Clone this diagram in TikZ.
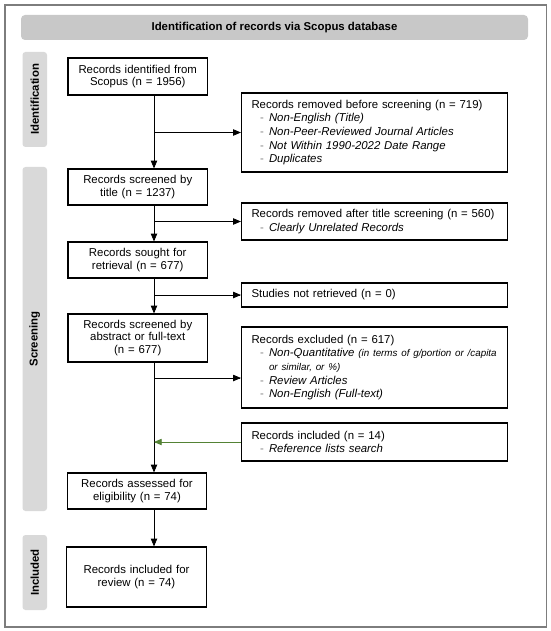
\documentclass[tikz,border=0pt]{standalone}
\usepackage{fontspec}
\setmainfont{Liberation Sans}
\usepackage{xcolor}
\usetikzlibrary{arrows}

\definecolor{barGray}{RGB}{200,200,200}
\definecolor{sideGray}{RGB}{217,217,217}
\definecolor{frameGray}{RGB}{125,125,125}
\definecolor{addGreen}{RGB}{84,130,53}
\newcommand{\dashitem}[1]{\hspace*{8.5pt}\textcolor{gray}{-}\hspace*{5.2pt}\textit{#1}}
\newcommand{\smallnote}{\fontsize{9.8}{12}\selectfont\itshape}

\tikzset{
    stagebox/.style={draw,line width=1.2pt,align=center,text width=131.5pt,inner xsep=4pt,inner ysep=2pt,font=\fontsize{11.4}{12.3}\selectfont},
    notebox/.style={draw,line width=1.2pt,align=left,text width=246pt,inner xsep=10pt,inner ysep=2pt,font=\fontsize{11.4}{13.6}\selectfont},
    phasebar/.style={fill=sideGray,rounded corners=3pt,rotate=90,minimum height=24.5pt,inner sep=0pt,font=\fontsize{11.4}{12}\selectfont\bfseries},
    flow/.style={->,>=triangle 45,line width=0.75pt}
}

\begin{document}
\begin{tikzpicture}[x=1pt,y=-1pt]
            \useasboundingbox (0,0) rectangle (550,631);
            \fill[white] (0,0) rectangle (550,631);
            \draw[frameGray,line width=1.2pt] (5,5) rectangle (546.5,627);

            \node[fill=barGray,rounded corners=4pt,minimum width=507pt,minimum height=25pt,font=\fontsize{11.4}{12}\selectfont\bfseries] (head) at (274.5,27.5) {Identification of records via Scopus database};
            \node[phasebar,minimum width=95pt] (idBar) at (34.75,99.5) {Identification};
            \node[phasebar,minimum width=344pt] (scrBar) at (34.75,339) {Screening};
            \node[phasebar,minimum width=75pt] (incBar) at (34.75,572.5) {Included};

            \node[stagebox,minimum height=37pt] (ident) at (137.75,76.5) {Records identified from\\Scopus (n = 1956)};
            \node[stagebox,minimum height=36pt] (title) at (137.75,187) {Records screened by\\title (n = 1237)};
            \node[stagebox,minimum height=36pt] (sought) at (137.75,260) {Records sought for\\retrieval (n = 677)};
            \node[stagebox,minimum height=48pt] (full) at (137.75,338) {Records screened by\\abstract or full-text\\(n = 677)};
            \node[stagebox,minimum height=36pt] (elig) at (137,491) {Records assessed for\\eligibility (n = 74)};
            \node[stagebox,minimum height=60pt] (incl) at (136.5,577) {Records included for\\review (n = 74)};

            \node[notebox,minimum height=79pt] (removed) at (374.5,132.5) {Records removed before screening (n = 719)\\
                \dashitem{Non-English (Title)}\\
                \dashitem{Non-Peer-Reviewed Journal Articles}\\
                \dashitem{Not Within 1990-2022 Date Range}\\
                \dashitem{Duplicates}};
            \node[notebox,minimum height=37pt] (unrel) at (374.5,221.5) {Records removed after title screening (n = 560)\\
                \dashitem{Clearly Unrelated Records}};
            \node[notebox,minimum height=24pt] (notRet) at (374.5,295) {Studies not retrieved (n = 0)};
            \node[notebox,minimum height=81pt] (excl) at (374.5,367.5) {Records excluded (n = 617)\\
                \mbox{\dashitem{Non-Quantitative {\smallnote(in terms of g/portion or /capita}}}\\
                \hspace*{17.5pt}{\smallnote or similar, or \%)}\\
                \dashitem{Review Articles}\\
                \dashitem{Non-English (Full-text)}};
            \node[notebox,minimum height=38pt] (extra) at (374.5,442) {Records included (n = 14)\\
                \dashitem{Reference lists search}};

            \coordinate (trunk) at (154,0);
            \coordinate (exclIn) at ([yshift=-10.5pt]excl.west);

            \draw[flow] (ident.south -| trunk) -- (title.north -| trunk);
            \draw[flow] (title.south -| trunk) -- (sought.north -| trunk);
            \draw[flow] (sought.south -| trunk) -- (full.north -| trunk);
            \draw[flow] (full.south -| trunk) -- (elig.north -| trunk);
            \draw[flow] (elig.south -| trunk) -- (incl.north -| trunk);
            \draw[flow] (trunk |- removed.west) -- (removed.west);
            \draw[flow] (trunk |- unrel.west) -- (unrel.west);
            \draw[flow] (trunk |- notRet.west) -- (notRet.west);
            \draw[flow] (trunk |- exclIn) -- (exclIn);
            \draw[flow,addGreen] (extra.west) -- (trunk |- extra.west);
\end{tikzpicture}
\end{document}
